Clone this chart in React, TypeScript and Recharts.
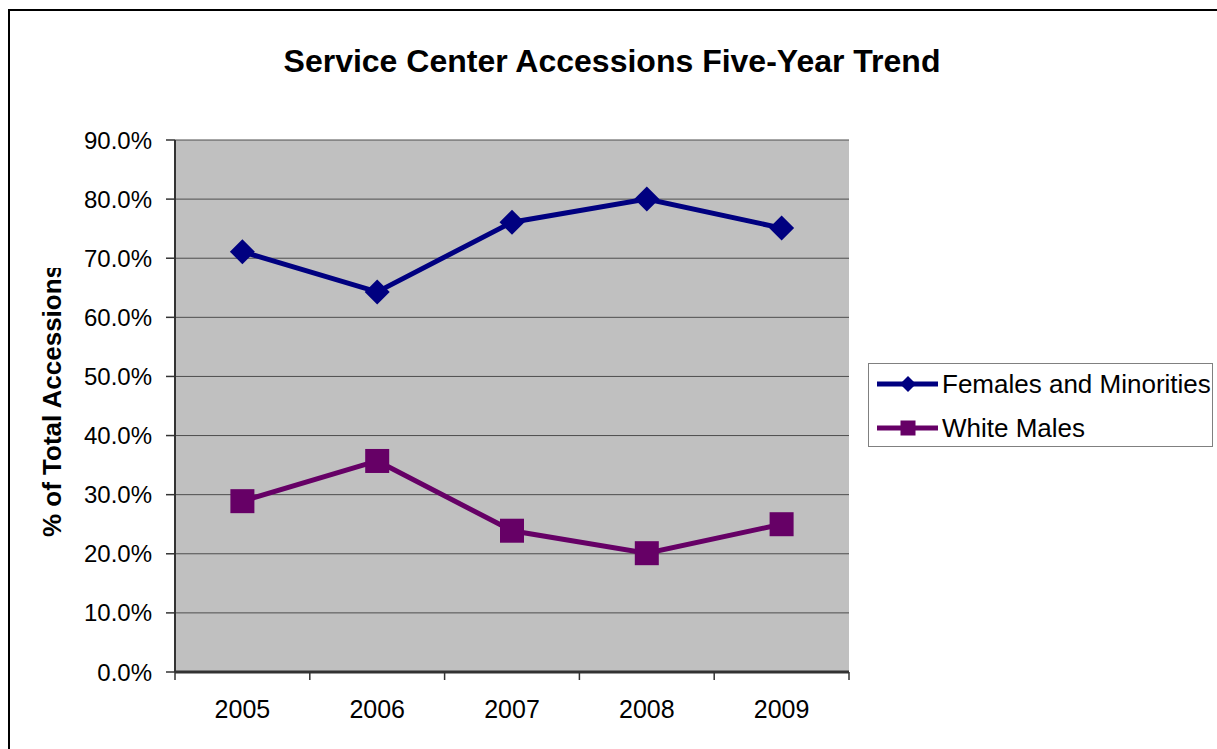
import React from "react";
import {
  ComposedChart,
  Line,
  XAxis,
  YAxis,
  CartesianGrid,
  Legend,
} from "recharts";

// values
const years = ["2005", "2006", "2007", "2008", "2009"];
const femalesMinorities = [71.1, 64.3, 76.1, 80.0, 75.1];
const whiteMales = [28.9, 35.7, 23.9, 20.1, 25.0];
const yTicks = [0, 10, 20, 30, 40, 50, 60, 70, 80, 90];

const data = years.map((year, i) => ({
  year,
  fm: femalesMinorities[i],
  wm: whiteMales[i],
}));

const W = 1217;
const H = 749;
const PLOT_LEFT = 175;
const PLOT_TOP = 140;
const PLOT_RIGHT = 849;
const PLOT_BOTTOM = 672;
const Y_AXIS_W = 100;
const X_AXIS_H = 60;
const BAND = (PLOT_RIGHT - PLOT_LEFT) / years.length;
const NAVY = "#000080";
const PURPLE = "#660066";
const FONT = "'Liberation Sans', Arial, sans-serif";

const Diamond = ({ cx, cy, r, color }: any) => (
  <polygon
    points={`${cx},${cy - r} ${cx + r},${cy} ${cx},${cy + r} ${cx - r},${cy}`}
    fill={color}
  />
);

const Square = ({ cx, cy, s, color }: any) => (
  <rect x={cx - s / 2} y={cy - s / 2} width={s} height={s} fill={color} />
);

const renderDiamondDot = (props: any) => {
  const { cx, cy, index } = props;
  if (cx == null || cy == null) return <g key={`d-${index}`} />;
  return <Diamond key={`d-${index}`} cx={cx} cy={cy} r={12.5} color={NAVY} />;
};

const renderSquareDot = (props: any) => {
  const { cx, cy, index } = props;
  if (cx == null || cy == null) return <g key={`s-${index}`} />;
  return <Square key={`s-${index}`} cx={cx} cy={cy} s={24} color={PURPLE} />;
};

// labels sit in the middle of each band, tick marks on the band edges
const XTick = (props: any) => {
  const { x, y, payload, index } = props;
  const left = x - BAND / 2;
  return (
    <g>
      <line x1={left} x2={left} y1={PLOT_BOTTOM} y2={PLOT_BOTTOM + 8} stroke="#333" strokeWidth={1.5} />
      {index === years.length - 1 && (
        <line x1={x + BAND / 2} x2={x + BAND / 2} y1={PLOT_BOTTOM} y2={PLOT_BOTTOM + 8} stroke="#333" strokeWidth={1.5} />
      )}
      <text x={x} y={y} dy="0.71em" textAnchor="middle" fontSize={25} fontFamily={FONT} fill="#000">
        {payload.value}
      </text>
    </g>
  );
};

const YLabel = () => {
  const cx = 52;
  const startY = 537;
  return (
    <g>
      <defs>
        <clipPath id="ylabel-clip">
          <rect x={0} y={268} width={120} height={400} />
        </clipPath>
      </defs>
      <g clipPath="url(#ylabel-clip)">
        <text
          x={cx}
          y={startY}
          dy="0.35em"
          transform={`rotate(-90 ${cx} ${startY})`}
          textAnchor="start"
          fontSize={26}
          fontWeight="bold"
          fontFamily={FONT}
          fill="#000"
        >
          % of Total Accessions
        </text>
      </g>
    </g>
  );
};

const LegendBox = (props: any) => {
  const { payload } = props;
  return (
    <div
      style={{
        width: 343,
        height: 82,
        border: "1.5px solid #808080",
        background: "#fff",
        fontFamily: FONT,
      }}
    >
      <svg width={343} height={82}>
        {(payload || []).map((entry: any, i: number) => {
          const cy = 20 + i * 44;
          return (
            <g key={entry.value}>
              <line x1={8} x2={69} y1={cy} y2={cy} stroke={entry.color} strokeWidth={5} />
              {i === 0 ? (
                <Diamond cx={39} cy={cy} r={8} color={entry.color} />
              ) : (
                <Square cx={39} cy={cy} s={15} color={entry.color} />
              )}
              <text x={73} y={cy} dy="0.35em" fontSize={26} fill="#000">
                {entry.value}
              </text>
            </g>
          );
        })}
      </svg>
    </div>
  );
};

const App = () => {
  return (
    <div style={{ position: "relative", width: W, height: H, overflow: "hidden", background: "#fff" }}>
      <style>{"body{margin:0;overflow:hidden}"}</style>
      <div
        style={{
          position: "absolute",
          left: 8,
          top: 9,
          width: W,
          height: H,
          borderLeft: "2px solid #000",
          borderTop: "2px solid #000",
        }}
      />
      <div
        style={{
          position: "absolute",
          left: 0,
          top: 45,
          width: 1224,
          textAlign: "center",
          fontFamily: FONT,
          fontWeight: "bold",
          fontSize: 32,
          lineHeight: "32px",
          color: "#000",
        }}
      >
        Service Center Accessions Five-Year Trend
      </div>
      <div style={{ position: "absolute", left: 0, top: 0 }}>
        <ComposedChart
          width={W}
          height={H}
          data={data}
          margin={{
            top: PLOT_TOP,
            right: W - PLOT_RIGHT,
            bottom: H - PLOT_BOTTOM - X_AXIS_H,
            left: PLOT_LEFT - Y_AXIS_W,
          }}
        >
          <CartesianGrid vertical={false} stroke="#4d4d4d" fill="#C0C0C0" fillOpacity={1} />
          <XAxis
            dataKey="year"
            height={X_AXIS_H}
            interval={0}
            padding={{ left: BAND / 2, right: BAND / 2 }}
            tickLine={false}
            tickSize={8}
            tickMargin={20}
            axisLine={{ stroke: "#333", strokeWidth: 3 }}
            tick={<XTick />}
          />
          {/* top and right edges of the plot frame */}
          <XAxis
            xAxisId="frame"
            orientation="top"
            dataKey="year"
            height={0}
            tick={false}
            tickLine={false}
            axisLine={{ stroke: "#808080", strokeWidth: 2 }}
          />
          <YAxis
            yAxisId="frame"
            orientation="right"
            width={0}
            domain={[0, 90]}
            tick={false}
            tickLine={false}
            axisLine={{ stroke: "#808080", strokeWidth: 2 }}
          />
          <YAxis
            width={Y_AXIS_W}
            domain={[0, 90]}
            ticks={yTicks}
            interval={0}
            tickSize={9}
            tickMargin={14}
            tickFormatter={(v: number) => `${v.toFixed(1)}%`}
            tick={{ fontSize: 24, fontFamily: FONT, fill: "#000" }}
            tickLine={{ stroke: "#333", strokeWidth: 1.5 }}
            axisLine={{ stroke: "#333", strokeWidth: 2 }}
            label={<YLabel />}
          />
          <Legend
            layout="vertical"
            align="center"
            verticalAlign="middle"
            content={<LegendBox />}
            wrapperStyle={{ position: "absolute", left: 868, top: 363, width: 345, height: 84 }}
          />
          <Line
            type="linear"
            dataKey="fm"
            name="Females and Minorities"
            stroke={NAVY}
            strokeWidth={5}
            dot={renderDiamondDot}
            activeDot={false}
            isAnimationActive={false}
          />
          <Line
            type="linear"
            dataKey="wm"
            name="White Males"
            stroke={PURPLE}
            strokeWidth={5}
            dot={renderSquareDot}
            activeDot={false}
            isAnimationActive={false}
          />
        </ComposedChart>
      </div>
    </div>
  );
};

export default App;
